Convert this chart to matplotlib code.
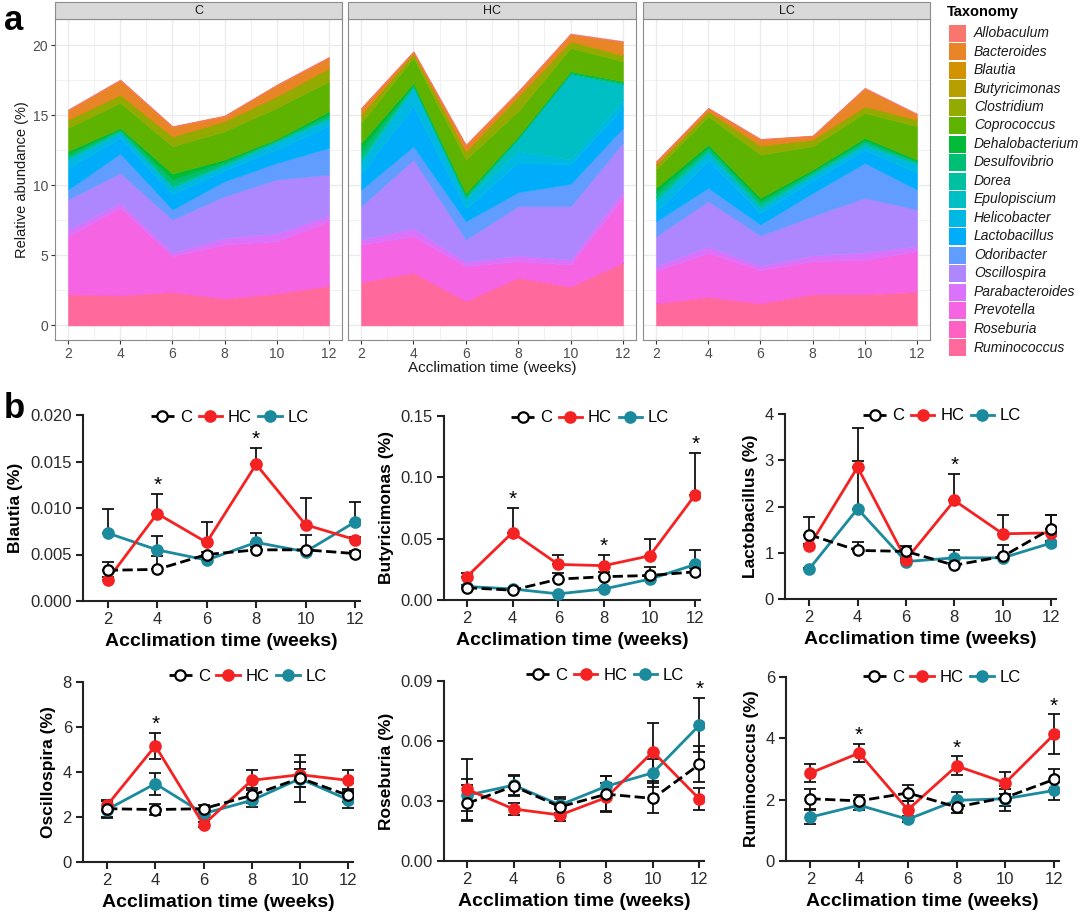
import numpy as np
import matplotlib
matplotlib.use('agg')
import matplotlib.pyplot as plt
from matplotlib.patches import Rectangle
from matplotlib.ticker import FormatStrFormatter

plt.rcParams['font.family'] = ['Liberation Sans', 'DejaVu Sans']

weeks = [2, 4, 6, 8, 10, 12]
groups = ['C', 'HC', 'LC']

# ---- panel a: relative abundance per genus (%), legend order ----
taxa = ['Allobaculum', 'Bacteroides', 'Blautia', 'Butyricimonas', 'Clostridium',
        'Coprococcus', 'Dehalobacterium', 'Desulfovibrio', 'Dorea', 'Epulopiscium',
        'Helicobacter', 'Lactobacillus', 'Odoribacter', 'Oscillospira',
        'Parabacteroides', 'Prevotella', 'Roseburia', 'Ruminococcus']

abund_c = [
    [0.05, 0.05, 0.04, 0.04, 0.05, 0.05],
    [0.66, 1.02, 0.68, 0.36, 0.78, 0.74],
    [0.003, 0.004, 0.005, 0.005, 0.005, 0.005],
    [0.010, 0.008, 0.017, 0.019, 0.020, 0.023],
    [0.59, 0.58, 0.69, 0.70, 0.81, 0.92],
    [1.66, 1.79, 1.95, 2.02, 2.21, 2.14],
    [0.23, 0.10, 0.44, 0.16, 0.07, 0.22],
    [0.23, 0.11, 0.44, 0.17, 0.08, 0.23],
    [0.10, 0.10, 0.10, 0.10, 0.10, 0.10],
    [0.04, 0.04, 0.04, 0.04, 0.04, 0.04],
    [0.60, 0.35, 0.45, 0.30, 0.45, 0.45],
    [1.54, 1.13, 1.09, 0.77, 0.98, 1.57],
    [0.71, 1.38, 0.72, 1.07, 1.18, 1.91],
    [2.17, 2.15, 2.36, 3.00, 3.85, 2.93],
    [0.45, 0.35, 0.25, 0.45, 0.55, 0.40],
    [4.13, 6.21, 2.54, 3.85, 3.71, 4.58],
    [0.03, 0.04, 0.03, 0.03, 0.03, 0.05],
    [2.21, 2.14, 2.38, 1.90, 2.28, 2.81],
]
abund_hc = [
    [0.05, 0.04, 0.05, 0.05, 0.05, 0.05],
    [0.43, 0.08, 0.42, 0.31, 0.49, 0.91],
    [0.002, 0.009, 0.006, 0.015, 0.008, 0.007],
    [0.019, 0.055, 0.029, 0.028, 0.036, 0.087],
    [0.57, 0.29, 0.56, 1.03, 0.44, 0.38],
    [1.43, 1.79, 2.38, 1.78, 1.67, 1.43],
    [0.53, 0.13, 0.16, 0.09, 0.09, 0.09],
    [0.50, 0.12, 0.16, 0.09, 0.09, 0.09],
    [0.30, 0.05, 0.10, 0.06, 0.05, 0.06],
    [0.10, 0.05, 0.05, 0.83, 6.07, 1.07],
    [0.75, 1.30, 0.65, 0.80, 0.35, 0.60],
    [1.15, 2.87, 0.90, 2.13, 1.38, 1.42],
    [1.19, 0.95, 1.30, 1.00, 1.60, 1.07],
    [2.38, 4.92, 1.61, 3.52, 3.81, 3.47],
    [0.35, 0.55, 0.30, 0.40, 0.35, 0.45],
    [2.65, 2.58, 2.47, 1.16, 1.54, 4.61],
    [0.04, 0.03, 0.02, 0.03, 0.05, 0.03],
    [3.09, 3.76, 1.74, 3.40, 2.76, 4.47],
]
abund_lc = [
    [0.04, 0.04, 0.04, 0.04, 0.05, 0.05],
    [0.19, 0.20, 0.44, 0.25, 1.26, 0.37],
    [0.007, 0.006, 0.004, 0.006, 0.005, 0.008],
    [0.011, 0.009, 0.005, 0.009, 0.017, 0.029],
    [0.34, 0.35, 0.63, 0.46, 0.46, 0.44],
    [1.31, 2.02, 3.09, 1.66, 1.78, 2.38],
    [0.33, 0.20, 0.24, 0.14, 0.18, 0.11],
    [0.33, 0.20, 0.24, 0.15, 0.18, 0.11],
    [0.25, 0.15, 0.20, 0.10, 0.15, 0.09],
    [0.04, 0.04, 0.04, 0.04, 0.04, 0.04],
    [0.78, 0.55, 0.36, 0.36, 0.32, 0.57],
    [0.65, 1.95, 0.82, 0.88, 0.92, 1.22],
    [1.07, 0.95, 0.79, 1.66, 2.49, 1.42],
    [2.14, 3.24, 2.17, 2.81, 3.91, 2.63],
    [0.35, 0.45, 0.30, 0.40, 0.50, 0.35],
    [2.28, 3.12, 2.35, 2.34, 2.45, 2.85],
    [0.03, 0.04, 0.03, 0.04, 0.04, 0.07],
    [1.57, 2.02, 1.57, 2.21, 2.21, 2.38],
]

# ---- panel b: mean and SEM, rows are C, HC, LC ----
blautia = [[0.0033, 0.0034, 0.0050, 0.0055, 0.0055, 0.0051],
           [0.0023, 0.0094, 0.0063, 0.0147, 0.0082, 0.0066],
           [0.0073, 0.0055, 0.0044, 0.0063, 0.0053, 0.0085]]
blautia_err = [[0.0009, 0.0014, 0.0003, 0.0003, 0.0016, 0.0003],
               [0.0003, 0.0021, 0.0022, 0.0018, 0.0029, 0.0003],
               [0.0026, 0.0015, 0.0002, 0.0010, 0.0003, 0.0021]]
butyricimonas = [[0.010, 0.008, 0.017, 0.019, 0.020, 0.023],
                 [0.019, 0.055, 0.029, 0.028, 0.036, 0.086],
                 [0.011, 0.009, 0.005, 0.009, 0.017, 0.029]]
butyricimonas_err = [[0.001, 0.001, 0.005, 0.004, 0.007, 0.003],
                     [0.003, 0.020, 0.008, 0.009, 0.014, 0.034],
                     [0.001, 0.001, 0.001, 0.001, 0.002, 0.012]]
lactobacillus = [[1.39, 1.05, 1.03, 0.73, 0.92, 1.52],
                 [1.14, 2.85, 0.85, 2.13, 1.41, 1.43],
                 [0.65, 1.95, 0.81, 0.89, 0.89, 1.21]]
lactobacillus_err = [[0.38, 0.18, 0.11, 0.05, 0.24, 0.29],
                     [0.05, 0.85, 0.05, 0.57, 0.41, 0.38],
                     [0.03, 1.03, 0.05, 0.18, 0.05, 0.05]]
oscillospira = [[2.37, 2.33, 2.37, 2.96, 3.73, 2.96],
                [2.52, 5.16, 1.66, 3.63, 3.88, 3.63],
                [2.33, 3.48, 2.15, 2.74, 3.70, 2.77]]
oscillospira_err = [[0.35, 0.25, 0.15, 0.35, 0.40, 0.30],
                    [0.25, 0.57, 0.10, 0.45, 0.55, 0.44],
                    [0.37, 0.48, 0.20, 0.30, 1.05, 0.35]]
roseburia = [[0.0288, 0.0374, 0.0271, 0.0334, 0.0313, 0.0483],
             [0.0358, 0.0260, 0.0230, 0.0318, 0.0546, 0.0310],
             [0.0329, 0.0379, 0.0280, 0.0374, 0.0441, 0.0679]]
roseburia_err = [[0.0090, 0.0050, 0.0040, 0.0090, 0.0075, 0.0090],
                 [0.0154, 0.0030, 0.0030, 0.0070, 0.0145, 0.0056],
                 [0.0080, 0.0050, 0.0040, 0.0050, 0.0070, 0.0136]]
ruminococcus = [[2.03, 1.96, 2.22, 1.76, 2.07, 2.66],
                [2.87, 3.52, 1.67, 3.10, 2.55, 4.13],
                [1.43, 1.82, 1.36, 1.98, 2.03, 2.30]]
ruminococcus_err = [[0.33, 0.20, 0.25, 0.20, 0.28, 0.33],
                    [0.30, 0.30, 0.30, 0.31, 0.35, 0.65],
                    [0.23, 0.15, 0.10, 0.27, 0.40, 0.32]]


def hue_pal(n, c=100.0, l=65.0):
    # ggplot2 default hue palette (polar LUV -> sRGB)
    hues = np.linspace(15, 375, n + 1)[:-1]
    Xn, Yn, Zn = 95.047, 100.0, 108.883
    un = 4 * Xn / (Xn + 15 * Yn + 3 * Zn)
    vn = 9 * Yn / (Xn + 15 * Yn + 3 * Zn)
    Y = Yn * ((l + 16) / 116) ** 3
    M = np.array([[3.240479, -1.537150, -0.498535],
                  [-0.969256, 1.875992, 0.041556],
                  [0.055648, -0.204043, 1.057311]])
    out = []
    for h in hues:
        u = c * np.cos(np.radians(h))
        v = c * np.sin(np.radians(h))
        up = u / (13 * l) + un
        vp = v / (13 * l) + vn
        X = 9 * Y * up / (4 * vp)
        Z = Y * (12 - 3 * up - 20 * vp) / (4 * vp)
        rgb = M @ (np.array([X, Y, Z]) / 100)
        rgb = np.where(rgb <= 0.0031308, 12.92 * rgb, 1.055 * np.abs(rgb) ** (1 / 2.4) - 0.055)
        out.append(tuple(np.clip(rgb, 0, 1)))
    return out


colors = hue_pal(len(taxa))

W, H = 1080.0, 918.0
fig = plt.figure(figsize=(10.8, 9.18), dpi=100)


def px_axes(left, top, right, bottom):
    return fig.add_axes([left / W, 1 - bottom / H, (right - left) / W, (bottom - top) / H])


# ---------------- panel a ----------------
facet_box = [(55, 19, 342, 340), (348, 19, 636, 340), (643, 19, 930, 340)]
for i, data in enumerate([abund_c, abund_hc, abund_lc]):
    ax = px_axes(*facet_box[i])
    polys = ax.stackplot(weeks, data[::-1], colors=colors[::-1])
    for p in polys:
        p.set_edgecolor(p.get_facecolor())
        p.set_linewidth(0.4)
    ax.set_xlim(1.5, 12.5)
    ax.set_ylim(-1.04, 21.87)
    ax.set_xticks(weeks)
    ax.set_xticks([3, 5, 7, 9, 11], minor=True)
    ax.set_yticks([0, 5, 10, 15, 20])
    ax.set_yticks([2.5, 7.5, 12.5, 17.5], minor=True)
    ax.grid(which='major', color='#EBEBEB', lw=1.0)
    ax.grid(which='minor', color='#EBEBEB', lw=0.5)
    ax.set_axisbelow(True)
    for s in ax.spines.values():
        s.set_color('#8C8C8C')
        s.set_linewidth(0.8)
    ax.tick_params(which='major', length=3, width=0.8, color='#333333',
                   labelcolor='#4D4D4D', labelsize=10, pad=2)
    ax.tick_params(which='minor', length=0)
    if i > 0:
        ax.tick_params(left=False, labelleft=False)

# ---------------- panel b ----------------
series_style = [
    dict(color='black', ls='--', marker='o', mfc='white', mec='black', zorder=5),
    dict(color='#F42222', ls='-', marker='o', mfc='#F42222', mec='#F42222', zorder=4),
    dict(color='#1B8A9C', ls='-', marker='o', mfc='#1B8A9C', mec='#1B8A9C', zorder=3),
]

panels = [
    ('Blautia (%)', blautia, blautia_err, 0.020, 0.005, '%.3f', [4, 8], True),
    ('Butyricimonas (%)', butyricimonas, butyricimonas_err, 0.15, 0.05, '%.2f', [4, 8, 12], True),
    ('Lactobacillus (%)', lactobacillus, lactobacillus_err, 4, 1, '%d', [8], True),
    ('Oscillospira (%)', oscillospira, oscillospira_err, 8, 2, '%d', [4], False),
    ('Roseburia (%)', roseburia, roseburia_err, 0.09, 0.03, '%.2f', [12], False),
    ('Ruminococcus (%)', ruminococcus, ruminococcus_err, 6, 2, '%d', [4, 8, 12], False),
]
panel_box = [(83, 415, 360, 601), (444, 416, 700, 600), (785, 414, 1056, 599),
             (83, 682, 353, 862), (444, 681, 704, 861), (786, 677, 1059, 861)]
legend_anchor = [(0.53, 0.985), (0.57, 0.99), (0.58, 0.99),
                 (0.61, 1.03), (0.62, 1.03), (0.57, 1.0)]

for k, (ylab, means, errs, ymax, ystep, fmt, stars, upper_only) in enumerate(panels):
    ax = px_axes(*panel_box[k])
    for g, (m, e, st) in enumerate(zip(means, errs, series_style)):
        yerr = [np.zeros(len(e)), e] if upper_only else e
        ax.errorbar(weeks, m, yerr=yerr, fmt='none', ecolor='#111111', elinewidth=1.3,
                    capsize=4, capthick=1.3, zorder=2)
        ax.plot(weeks, m, lw=2, ms=7.5, mew=1.6, label=groups[g], **st)
    top = np.max(np.array(means) + np.array(errs), axis=0)
    for w in stars:
        j = weeks.index(w)
        ax.text(w, top[j] - ymax * 0.005, '*', ha='center', va='bottom', fontsize=15)
    ax.set_xlim(1, 12.2)
    ax.set_ylim(0, ymax)
    ax.set_xticks(weeks)
    ax.set_yticks(np.arange(0, ymax + ystep / 2, ystep))
    ax.yaxis.set_major_formatter(FormatStrFormatter(fmt))
    for side in ['top', 'right']:
        ax.spines[side].set_visible(False)
    for side in ['left', 'bottom']:
        ax.spines[side].set_linewidth(1.5)
        ax.spines[side].set_color('#222222')
    ax.tick_params(length=5, width=1.5, color='#222222', labelsize=12,
                   labelcolor='#2A2A2A', pad=3)
    ax.set_ylabel(ylab, fontsize=12.5, fontweight='bold', labelpad=5)
    ax.set_xlabel('Acclimation time (weeks)', fontsize=14, fontweight='bold', labelpad=4)
    ax.legend(loc='center', bbox_to_anchor=legend_anchor[k], ncol=3, frameon=False,
              fontsize=12, handlelength=1.4, handletextpad=0.35,
              columnspacing=0.4, borderaxespad=0, borderpad=0)

# ---------------- overlay: strips, labels, legend ----------------
ov = fig.add_axes([0, 0, 1, 1])
ov.set_xlim(0, W)
ov.set_ylim(H, 0)
ov.axis('off')
ov.patch.set_alpha(0)

for (l, t, r, b), grp in zip(facet_box, groups):
    ov.add_patch(Rectangle((l, 2), r - l, 17, fc='#D9D9D9', ec='#8C8C8C', lw=0.8))
    ov.text((l + r) / 2, 10.5, grp, ha='center', va='center', fontsize=9, color='#1A1A1A')

ov.text(22, 180, 'Relative abundance (%)', rotation=90, ha='center', va='center',
        fontsize=10.5, color='#1A1A1A')
ov.text(492, 368, 'Acclimation time (weeks)', ha='center', va='center',
        fontsize=11, color='#1A1A1A')
ov.text(4, 20, 'a', fontsize=25, fontweight='bold', va='center', ha='left')
ov.text(4, 408, 'b', fontsize=25, fontweight='bold', va='center', ha='left')

ov.text(947, 12, 'Taxonomy', fontsize=10.5, fontweight='bold', va='center', ha='left')
for i, (name, col) in enumerate(zip(taxa, colors)):
    yc = 33 + 18.5 * i
    ov.add_patch(Rectangle((949, yc - 8.5), 17, 17, fc=col, ec='none'))
    ov.text(974, yc, name, fontsize=10, style='italic', va='center', ha='left',
            color='#1A1A1A')

fig.savefig('out.png', dpi=100)
